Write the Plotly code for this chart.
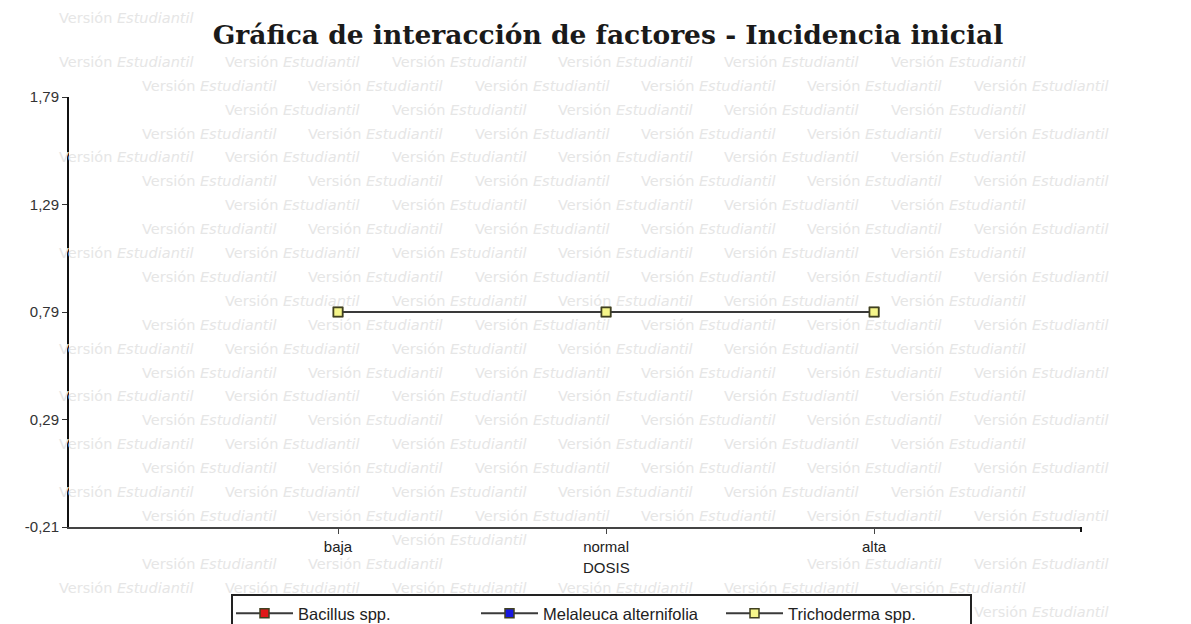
import plotly.graph_objects as go

# ---- data ----
dosis = ["baja", "normal", "alta"]
bacillus = [0.79, 0.79, 0.79]
melaleuca = [0.79, 0.79, 0.79]
trichoderma = [0.79, 0.79, 0.79]
series_names = ["Bacillus spp.", "Melaleuca alternifolia", "Trichoderma spp."]
y_ticks = [-0.21, 0.29, 0.79, 1.29, 1.79]
y_ticktext = [f"{v:.2f}".replace(".", ",") for v in y_ticks]
title_text = "Gráfica de interacción de factores - Incidencia inicial"
x_title = "DOSIS"
watermark = "Versión <i>Estudiantil</i>"

# page (screenshot) geometry; the page body adds an 8px offset
W, H, OFF = 1191, 624, 8
FW, FH = W - OFF, H - OFF
PL, PT, PR, PB = 69, 97, 1081, 527   # plot area in page pixels
pw, ph = PR - PL, PB - PT
x_range = [-1.0037, 2.772]


def px_x(v):  # category index -> page pixel
    return PL + (v - x_range[0]) / (x_range[1] - x_range[0]) * pw


def px_y(v):
    return PT + (1.79 - v) / 2.0 * ph


def paper_x(px):
    return (px - PL) / pw


def paper_y(py):
    return (PB - py) / ph


fig = go.Figure()
marker_fills = ["#e01818", "#1818e0", "#f6f68a"]
for name, vals, fill in zip(series_names, [bacillus, melaleuca, trichoderma], marker_fills):
    fig.add_trace(go.Scatter(
        x=dosis, y=vals, name=name, mode="lines+markers",
        line=dict(color="#3a3a3a", width=2),
        marker=dict(symbol="square", size=9, color=fill,
                    line=dict(color="#404020", width=1.5)),
    ))

# regions where the reference hides the watermark behind labels
legend_box = (232, 595, 971, 640)
occluders = [(205, 16, 1012, 54), legend_box, (574, 557, 640, 578)]
for t in y_ticks:
    occluders.append((26, px_y(t) - 9, 67, px_y(t) + 9))
for i, c in enumerate(dosis):
    half = 8 * len(c) / 2 + 4
    occluders.append((px_x(i) - half, 535, px_x(i) + half, 554))

wm_w, wm_h = 141, 12
annotations = []
period = 166.3
row_h = 23.9
for r in range(27):
    py = max(14 + r * row_h, 18)
    x0 = 57 if r % 2 == 0 else 140
    for j in range(-1, 8):
        px = x0 + j * period
        box = (px, py - wm_h / 2, px + wm_w, py + wm_h / 2)
        if box[0] < OFF or box[2] > W or box[1] < OFF or box[3] > H:
            continue
        if any(box[0] < o[2] and box[2] > o[0] and box[1] < o[3] and box[3] > o[1] for o in occluders):
            continue
        annotations.append(dict(
            text=watermark, xref="paper", yref="paper",
            x=paper_x(px), y=paper_y(py),
            xanchor="left", yanchor="middle", showarrow=False,
            font=dict(family="DejaVu Sans", size=14.5, color="#e6e6e6"),
        ))

annotations.append(dict(
    text=x_title, xref="x", yref="paper", x=dosis[1], y=paper_y(567),
    xanchor="center", yanchor="middle", showarrow=False,
    font=dict(family="Liberation Sans", size=15, color="#222"),
))

fig.update_layout(
    width=FW, height=FH,
    margin=dict(l=PL - OFF, r=W - PR, t=PT - OFF, b=H - PB, autoexpand=False),
    paper_bgcolor="white", plot_bgcolor="rgba(0,0,0,0)",
    title=dict(text=f"<b>{title_text}</b>", x=(608 - OFF) / FW, xref="container", xanchor="center",
               y=1 - (35 - OFF) / FH, yanchor="middle",
               font=dict(family="DejaVu Serif", size=26.5, color="#1a1a1a")),
    showlegend=True,
    legend=dict(orientation="h", x=paper_x(231), xanchor="left",
                y=paper_y(596), yanchor="top",
                borderwidth=0, bgcolor="rgba(0,0,0,0)",
                itemwidth=57,
                entrywidth=173, entrywidthmode="pixels",
                font=dict(family="Liberation Sans", size=16.5, color="#222")),
    xaxis=dict(range=x_range, showgrid=False, zeroline=False, automargin=False,
               showline=True, linecolor="#444", linewidth=2,
               ticks="outside", ticklen=5, tickcolor="#444",
               tickfont=dict(family="Liberation Sans", size=15, color="#222")),
    yaxis=dict(range=[-0.21, 1.79], showgrid=False, zeroline=False, automargin=False,
               showline=True, linecolor="#111", linewidth=2,
               tickvals=y_ticks, ticktext=y_ticktext,
               ticks="outside", ticklen=5, tickcolor="#333",
               tickfont=dict(family="Liberation Sans", size=15, color="#333")),
    annotations=annotations,
    shapes=[
        dict(type="line", xref="paper", yref="paper", x0=1, x1=1,
             y0=0, y1=-5 / ph, line=dict(color="#111", width=2)),
        dict(type="rect", xref="paper", yref="paper",
             x0=paper_x(legend_box[0]), x1=paper_x(legend_box[2]),
             y0=paper_y(legend_box[3]), y1=paper_y(legend_box[1]),
             line=dict(color="#222", width=2), fillcolor="rgba(0,0,0,0)"),
    ],
)

fig.write_html("out.html")
